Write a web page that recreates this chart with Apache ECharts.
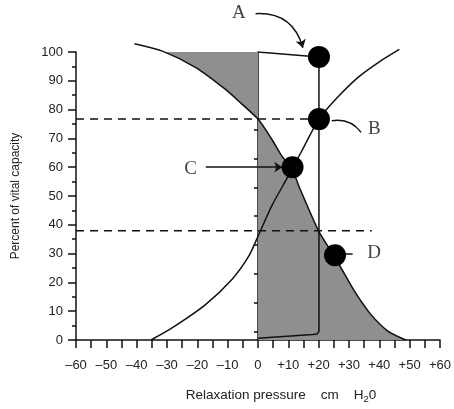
<!DOCTYPE html>
<html>
<head>
<meta charset="utf-8">
<script src="https://cdn.jsdelivr.net/npm/echarts@6/dist/echarts.min.js"></script>
<style>
  html, body { margin: 0; padding: 0; background: #fff; }
  #chart { width: 454px; height: 409px; }
</style>
</head>
<body>
<div id="chart"></div>
<script>
  // 数据：点 [压力 cmH2O, 肺活量%]
  var curveFalling = [[-40.7, 102.9], [-31.5, 100.3], [-20.5, 94.6], [-10.7, 87], [-5.3, 81.9], [0, 76.7],
    [4.5, 69.8], [7.8, 64], [11.2, 59.3], [13.8, 52.6], [20, 37.8], [24.6, 30], [27.4, 25], [31.8, 17],
    [37.2, 8.9], [42.7, 3.2], [48.7, 0]];
  var curveRising = [[-35.3, 0], [-28.2, 4.3], [-17.3, 12.3], [-8.6, 21], [-3.1, 29], [0, 36], [4.5, 46.5],
    [9.5, 56], [11.6, 60], [15.4, 67.6], [20.1, 76.7], [26, 84], [33, 91.2], [40, 96.6], [46.6, 100.9]];
  var loopLine = [[0, 100], [20.1, 98.3], [20.1, 3], [19.5, 2.1], [18, 1.9], [0, 0.6]];
  var dots = [[20.1, 98.3], [20.1, 76.7], [11.4, 60], [25.4, 29.4]];
  var dashUpper = [[-60, 76.7], [20.1, 76.7]];
  var dashLower = [[-60, 37.9], [37.5, 37.9]];
  var letters = [[-6.3, 113.5, 'A'], [38.4, 73.2, 'B'], [-22.2, 59.4, 'C'], [38.3, 30.2, 'D']];
  var pointers = [
    { coords: [[-0.8, 113.3], [14.8, 101.5]], curve: 0.4, arrow: true },
    { coords: [[-17.2, 60], [8, 60]], curve: 0, arrow: true },
    { coords: [[24.3, 76.1], [34, 72.1]], curve: 0.3, arrow: false },
    { coords: [[28, 30], [31.2, 30]], curve: 0, arrow: false }
  ];
  var xTickValues = [-60, -50, -40, -30, -20, -10, 0, 10, 20, 30, 40, 50, 60];
  var xTickLabels = ['\u201360', '\u201350', '\u201340', '\u201330', '\u201320', '\u201310', '0', '+10', '+20', '+30', '+40', '+50', '+60'];
  var innerTicks = [3, 13, 23, 33, 43, 53, 63, 73, 83, 93];

  // 阴影区：下降曲线与 x=0 之间
  var shadeTop = 100;
  var t = (curveFalling[0][1] - shadeTop) / (curveFalling[0][1] - curveFalling[1][1]);
  var topX = curveFalling[0][0] + t * (curveFalling[1][0] - curveFalling[0][0]);
  var shadePoly = [[topX, shadeTop]].concat(curveFalling.filter(function (p) { return p[1] < shadeTop; }), [[0, 0], [0, shadeTop]]);

  var ink = '#111';
  var chart = echarts.init(document.getElementById('chart'));
  chart.setOption({
    animation: false,
    grid: { left: 76, right: 11, top: 52, bottom: 66 },
    xAxis: {
      type: 'value', min: -60, max: 60, interval: 5,
      name: '{t|Relaxation pressure    cm    H}{s|2}{t|0}',
      nameLocation: 'middle', nameGap: 46,
      nameTextStyle: {
        padding: [0, 0, 0, 46],
        rich: {
          t: { fontFamily: 'Liberation Sans', fontSize: 13.5, color: '#222' },
          s: { fontFamily: 'Liberation Sans', fontSize: 9.5, color: '#222', padding: [8, 0, 0, 0] }
        }
      },
      axisLine: { onZero: true, lineStyle: { color: ink, width: 1.5 } },
      axisTick: { length: 8, lineStyle: { color: ink, width: 1.5 } },
      axisLabel: {
        margin: 19, fontFamily: 'Liberation Sans', fontSize: 13, color: '#222',
        formatter: function (v) {
          var i = xTickValues.indexOf(v);
          return i < 0 ? '' : xTickLabels[i];
        }
      },
      splitLine: { show: false }
    },
    yAxis: [{
      type: 'value', min: 0, max: 100, interval: 10,
      name: 'Percent of vital capacity', nameLocation: 'middle', nameGap: 54,
      nameTextStyle: { fontFamily: 'Liberation Sans', fontSize: 12, color: '#222' },
      axisLine: { onZero: false, lineStyle: { color: ink, width: 1.5 } },
      axisTick: { length: 8, lineStyle: { color: ink, width: 1.5 } },
      minorTick: { show: true, splitNumber: 2, length: 4, lineStyle: { color: ink, width: 1.5 } },
      axisLabel: { margin: 13, fontFamily: 'Liberation Sans', fontSize: 13, color: '#222' },
      splitLine: { show: false }
    }, {
      type: 'value', min: 0, max: 100, position: 'left',
      axisLine: { show: true, onZero: true, onZeroAxisIndex: 0, lineStyle: { color: ink, width: 1.5 } },
      axisTick: { show: true, customValues: innerTicks, length: 4, lineStyle: { color: ink, width: 1.5 } },
      axisLabel: { show: false },
      splitLine: { show: false }
    }],
    series: [
      {
        type: 'custom', z: 1, clip: false,
        data: [[0, 0]],
        renderItem: function (params, api) {
          return {
            type: 'polygon',
            shape: { points: shadePoly.map(function (p) { return api.coord(p); }) },
            style: { fill: '#8f8f8f' }
          };
        }
      },
      { type: 'line', data: curveFalling, smooth: 0.25, symbol: 'none', clip: false, z: 3, lineStyle: { color: ink, width: 1.5 } },
      { type: 'line', data: curveRising, smooth: 0.25, symbol: 'none', clip: false, z: 3, lineStyle: { color: ink, width: 1.5 } },
      { type: 'line', data: loopLine, symbol: 'none', z: 3, lineStyle: { color: ink, width: 1.5 } },
      { type: 'line', data: dashUpper, symbol: 'none', z: 2, lineStyle: { color: ink, width: 1.5, type: [8, 6] } },
      { type: 'line', data: dashLower, symbol: 'none', z: 2, lineStyle: { color: ink, width: 1.5, type: [8, 6] } },
      {
        type: 'lines', coordinateSystem: 'cartesian2d', clip: false, z: 4,
        data: pointers.map(function (p) {
          return {
            coords: p.coords,
            symbol: ['none', p.arrow ? 'arrow' : 'none'],
            symbolSize: 8,
            lineStyle: { curveness: p.curve }
          };
        }),
        lineStyle: { color: ink, width: 1.5, opacity: 1 }
      },
      { type: 'scatter', data: dots, symbolSize: 22, z: 6, itemStyle: { color: '#000', opacity: 1 } },
      {
        type: 'scatter', data: letters, symbolSize: 1, clip: false, z: 6,
        itemStyle: { color: 'rgba(0,0,0,0)' },
        label: {
          show: true, position: 'inside', formatter: function (p) { return p.data[2]; },
          fontFamily: 'Liberation Serif', fontSize: 19, color: '#111'
        }
      }
    ]
  });
</script>
</body>
</html>
